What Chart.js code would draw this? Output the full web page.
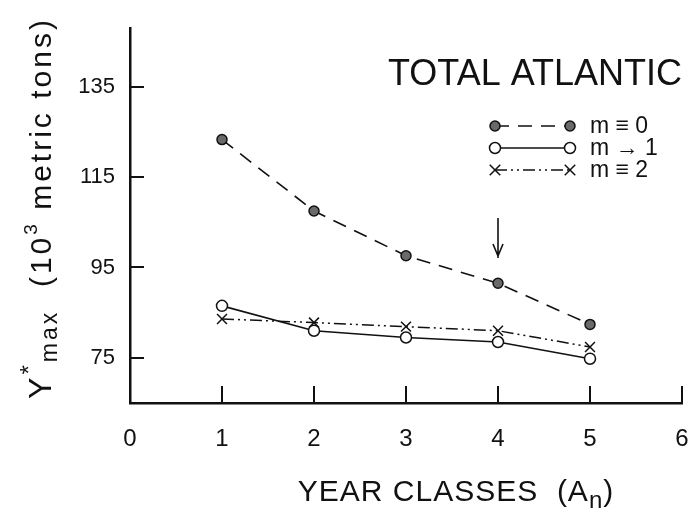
<!DOCTYPE html>
<html>
<head>
<meta charset="utf-8">
<title>Total Atlantic</title>
<script src="https://cdn.jsdelivr.net/npm/chart.js"></script>
<style>
  body { margin: 0; background: #fff; }
  canvas { display: block; }
</style>
</head>
<body>
<canvas id="chart" width="691" height="510"></canvas>
<script>
// year classes on the x axis
var yearClasses = [1, 2, 3, 4, 5];
// Y*max (10^3 metric tons) for each assumption on m
var seriesM0 = [123.3, 107.5, 97.6, 91.5, 82.4];
var seriesM1 = [86.5, 81.0, 79.5, 78.5, 74.8];
var seriesM2 = [83.6, 82.8, 81.9, 81.0, 77.4];
var seriesNames = ['m \u2261 0', 'm \u2192 1', 'm \u2261 2'];
var yTickValues = [75, 95, 115, 135];
var xTickValues = [0, 1, 2, 3, 4, 5, 6];

var ink = '#111';
var fontName = '"Liberation Sans", Arial, sans-serif';

function pts(ys) {
    return yearClasses.map(function (x, i) { return { x: x, y: ys[i] }; });
}

// 注記・凡例・内向き目盛り
var paperPlugin = {
    id: 'paper',
    afterDraw: function (chart) {
        var ctx = chart.ctx;
        var xs = chart.scales.x, ys = chart.scales.y;
        ctx.save();
        ctx.setLineDash([]);
        ctx.strokeStyle = ink;
        ctx.fillStyle = ink;

        // arrow above year class 4
        var ax = xs.getPixelForValue(4);
        ctx.lineWidth = 1.6;
        ctx.beginPath();
        ctx.moveTo(ax, 218);
        ctx.lineTo(ax, 258);
        ctx.moveTo(ax - 5, 244);
        ctx.lineTo(ax, 256);
        ctx.lineTo(ax + 5, 244);
        ctx.stroke();

        // inward tick marks, drawn as thin filled bars
        xTickValues.slice(1).forEach(function (v) {
            var px = Math.round(xs.getPixelForValue(v));
            ctx.fillRect(px - 1, xs.top - 17, 2, 17);
        });
        yTickValues.forEach(function (v) {
            var py = Math.round(ys.getPixelForValue(v));
            ctx.fillRect(ys.right, py - 1, 14, 2);
        });

        // title inside the plot
        ctx.font = '36px ' + fontName;
        ctx.textBaseline = 'alphabetic';
        ctx.textAlign = 'left';
        ctx.fillText('TOTAL ATLANTIC', 388, 85);

        // legend: marker - line - marker
        var lx0 = 495, lx1 = 570, ly = [126, 148, 170];
        chart.data.datasets.forEach(function (ds, i) {
            var y = ly[i];
            ctx.save();
            ctx.lineWidth = ds.borderWidth;
            ctx.setLineDash(ds.borderDash || []);
            ctx.beginPath();
            ctx.moveTo(lx0, y);
            ctx.lineTo(lx1, y);
            ctx.stroke();
            ctx.restore();
            [lx0, lx1].forEach(function (px) {
                ctx.fillStyle = ds.pointBackgroundColor;
                ctx.strokeStyle = ink;
                ctx.lineWidth = ds.pointBorderWidth;
                ctx.beginPath();
                if (ds.pointStyle === 'circle') {
                    ctx.arc(px, y, ds.pointRadius, 0, Math.PI * 2);
                    ctx.fill();
                    ctx.stroke();
                } else {
                    var r = ds.pointRadius * 0.75;
                    ctx.moveTo(px - r, y - r); ctx.lineTo(px + r, y + r);
                    ctx.moveTo(px + r, y - r); ctx.lineTo(px - r, y + r);
                    ctx.stroke();
                }
            });
            ctx.fillStyle = ink;
            ctx.font = '23px ' + fontName;
            ctx.textBaseline = 'middle';
            ctx.fillText(seriesNames[i], 590, y + 1);
        });

        // y axis title, rotated, with super/subscripts
        var parts = [
            { t: 'Y', s: 32, dy: 0 },
            { t: '*', s: 24, dy: -14 },
            { t: 'max', s: 23, dy: 6 },
            { t: '  (10', s: 30, dy: 0 },
            { t: '3', s: 19, dy: -14 },
            { t: ' metric tons)', s: 30, dy: 0 }
        ];
        ctx.letterSpacing = '3px';
        var total = 0;
        parts.forEach(function (p) {
            ctx.font = p.s + 'px ' + fontName;
            p.w = ctx.measureText(p.t).width;
            total += p.w;
        });
        ctx.translate(51, 208);
        ctx.rotate(-Math.PI / 2);
        ctx.textBaseline = 'alphabetic';
        var u = -total / 2;
        parts.forEach(function (p) {
            ctx.font = p.s + 'px ' + fontName;
            ctx.fillText(p.t, u, p.dy);
            u += p.w;
        });
        ctx.setTransform(1, 0, 0, 1, 0, 0);

        // x axis title
        ctx.letterSpacing = '1px';
        var xp = [
            { t: 'YEAR CLASSES  (A', s: 30, dy: 0 },
            { t: 'n', s: 24, dy: 7 },
            { t: ')', s: 30, dy: 0 }
        ];
        var xw = 0;
        xp.forEach(function (p) {
            ctx.font = p.s + 'px ' + fontName;
            p.w = ctx.measureText(p.t).width;
            xw += p.w;
        });
        var xx = 456 - xw / 2;
        xp.forEach(function (p) {
            ctx.font = p.s + 'px ' + fontName;
            ctx.fillText(p.t, xx, 501 + p.dy);
            xx += p.w;
        });
        ctx.letterSpacing = '0px';
        ctx.restore();
    }
};

var chart = new Chart(document.getElementById('chart'), {
    type: 'line',
    data: {
        datasets: [{
            label: seriesNames[0],
            data: pts(seriesM0),
            borderColor: ink,
            borderWidth: 1.6,
            borderDash: [14, 9],
            pointStyle: 'circle',
            pointRadius: 5,
            pointBorderWidth: 1.5,
            pointBackgroundColor: '#6a6a6a',
            pointBorderColor: ink
        }, {
            label: seriesNames[1],
            data: pts(seriesM1),
            borderColor: ink,
            borderWidth: 1.6,
            pointStyle: 'circle',
            pointRadius: 5.5,
            pointBorderWidth: 1.5,
            pointBackgroundColor: '#fff',
            pointBorderColor: ink
        }, {
            label: seriesNames[2],
            data: pts(seriesM2),
            borderColor: ink,
            borderWidth: 1.5,
            borderDash: [12, 4, 2, 4, 2, 4],
            pointStyle: 'crossRot',
            pointRadius: 7,
            pointBorderWidth: 1.5,
            pointBackgroundColor: '#fff',
            pointBorderColor: ink
        }]
    },
    options: {
        responsive: false,
        animation: false,
        layout: { padding: { top: 28, right: 9, left: 0, bottom: 0 } },
        plugins: {
            legend: { display: false },
            tooltip: { enabled: false }
        },
        scales: {
            x: {
                type: 'linear',
                min: 0,
                max: 6,
                afterFit: function (s) {
                    s.height = 107;
                    s.paddingLeft = 0;
                    s.paddingRight = 0;
                },
                afterBuildTicks: function (s) {
                    s.ticks = xTickValues.map(function (v) { return { value: v }; });
                },
                grid: { display: false },
                border: { display: true, color: ink, width: 2.5 },
                ticks: { color: ink, padding: 14, font: { family: fontName, size: 24 } }
            },
            y: {
                min: 65,
                max: 148,
                afterFit: function (s) {
                    s.width = 130;
                    s.paddingTop = 0;
                    s.paddingBottom = 0;
                },
                afterBuildTicks: function (s) {
                    s.ticks = yTickValues.map(function (v) { return { value: v }; });
                },
                grid: { display: false },
                border: { display: true, color: ink, width: 2.5 },
                ticks: { color: ink, padding: 7, font: { family: fontName, size: 22 } }
            }
        }
    },
    plugins: [paperPlugin]
});
</script>
</body>
</html>
